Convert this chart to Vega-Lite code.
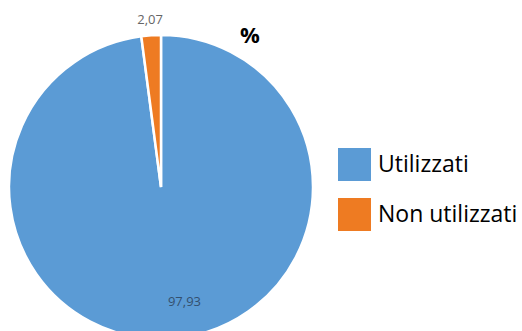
{
  "$schema": "https://vega.github.io/schema/vega-lite/v6.json",
  "width": 322,
  "height": 374,
  "autosize": "none",
  "padding": {"left": 0, "top": 0, "right": 200, "bottom": -43},
  "background": "white",
  "title": {"text": "%", "orient": "top", "anchor": "start", "frame": "group", "offset": 0, "baseline": "top", "dx": 240, "dy": 48, "fontSize": 22, "fontWeight": "bold", "font": "Open Sans", "color": "#000000"},
  "data": {"values": [
    {"cat": "Utilizzati", "pct": 97.93, "ord": 1, "label": "97,93"},
    {"cat": "Non utilizzati", "pct": 2.07, "ord": 2, "label": "2,07"}
  ]},
  "encoding": {
    "theta": {"field": "pct", "type": "quantitative", "stack": true},
    "order": {"field": "ord", "type": "quantitative"}
  },
  "layer": [
    {
      "mark": {"type": "arc", "outerRadius": 152, "stroke": "white", "strokeWidth": 2.5},
      "encoding": {
        "color": {
          "field": "cat", "type": "nominal",
          "sort": ["Utilizzati", "Non utilizzati"],
          "scale": {"domain": ["Utilizzati", "Non utilizzati"], "range": ["#5B9BD5", "#EE7B22"]},
          "legend": {"title": null, "orient": "none", "legendX": 338, "legendY": 148, "symbolType": "square", "symbolSize": 1089, "symbolStrokeWidth": 0, "symbolOpacity": 1, "labelFontSize": 23, "labelFont": "Open Sans", "labelColor": "#000000", "rowPadding": 17, "labelOffset": 7, "padding": 0, "labelLimit": 300}
        }
      }
    },
    {
      "mark": {"type": "text", "radius": 167, "fontSize": 13, "font": "Open Sans", "color": "#666666"},
      "encoding": {
        "detail": {"field": "cat", "type": "nominal"},
        "text": {"condition": {"test": "datum.cat === 'Non utilizzati'", "field": "label"}, "value": ""}
      }
    },
    {
      "mark": {"type": "text", "radius": 115, "dx": 16, "fontSize": 13, "font": "Open Sans", "color": "#34506f"},
      "encoding": {
        "detail": {"field": "cat", "type": "nominal"},
        "text": {"condition": {"test": "datum.cat === 'Utilizzati'", "field": "label"}, "value": ""}
      }
    }
  ],
  "config": {"view": {"stroke": null}}
}
